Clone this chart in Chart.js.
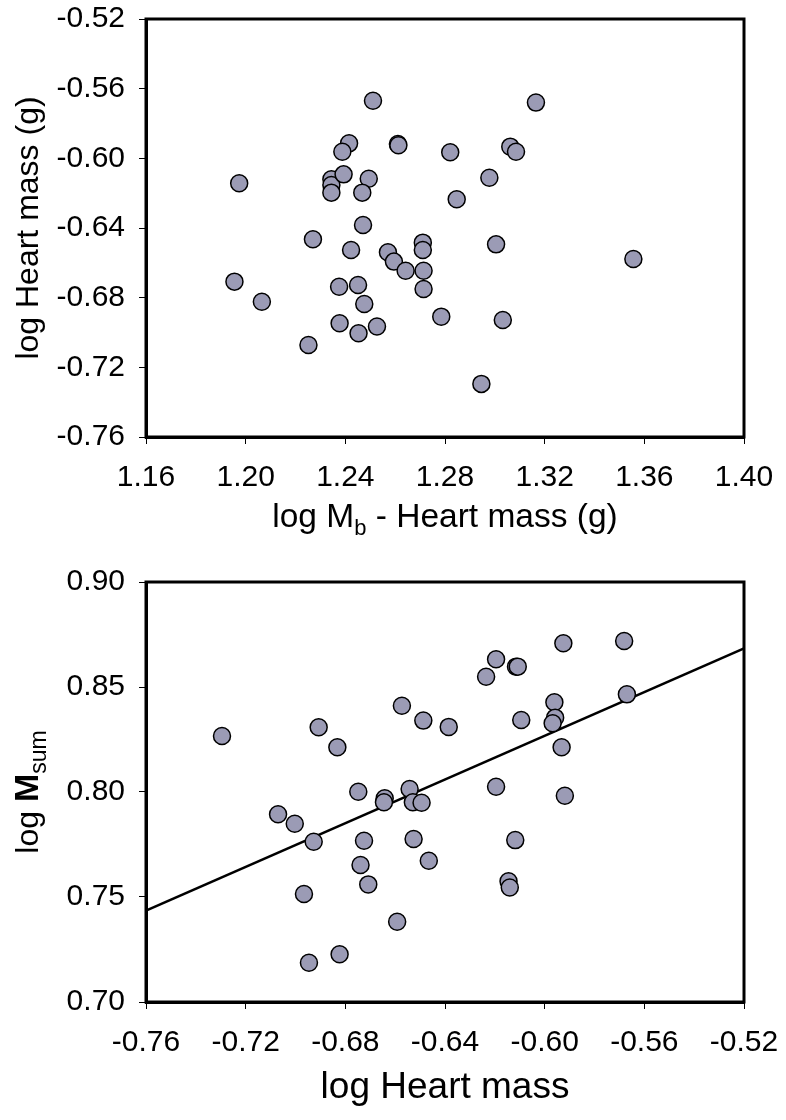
<!DOCTYPE html>
<html>
<head>
<meta charset="utf-8">
<script src="https://cdn.jsdelivr.net/npm/chart.js@4.4.1/dist/chart.umd.min.js"></script>
<style>
  body { margin: 0; background: #fff; }
  .box { position: absolute; left: 0; width: 786px; height: 560px; }
</style>
</head>
<body>
<div class="box" style="top:0"><canvas id="canvastopo" width="786" height="560"></canvas></div>
<div class="box" style="top:560px"><canvas id="canvasbaixo" width="786" height="560"></canvas></div>
<script>
// dados do grafico de cima: log Mb - Heart mass (x) contra log Heart mass (y)
var topX = [1.2511, 1.2415, 1.2388, 1.2611, 1.2613, 1.2821, 1.1974, 1.2344, 1.2344, 1.2344,
  1.2393, 1.2494, 1.2468, 1.2471, 1.2270, 1.2423, 1.2571, 1.2595, 1.2642, 1.2711,
  1.2711, 1.2714, 1.2714, 1.1955, 1.2065, 1.2375, 1.2451, 1.2476, 1.2377, 1.2453,
  1.2527, 1.2252, 1.2785, 1.2847, 1.3165, 1.3062, 1.3085, 1.2978, 1.3005, 1.3556,
  1.3032, 1.2946];
var topY = [-0.5669, -0.5914, -0.5962, -0.5918, -0.5925, -0.5965, -0.6143, -0.6120, -0.6153, -0.6197,
  -0.6092, -0.6117, -0.6197, -0.6383, -0.6465, -0.6526, -0.6539, -0.6593, -0.6645, -0.6484,
  -0.6526, -0.6645, -0.6750, -0.6708, -0.6823, -0.6737, -0.6727, -0.6836, -0.6947, -0.7004,
  -0.6966, -0.7072, -0.6909, -0.6235, -0.5680, -0.5933, -0.5962, -0.6111, -0.6494, -0.6578,
  -0.6928, -0.7295];

// dados do grafico de baixo: log Heart mass (x) contra log Msum (y)
var botX = [-0.7295, -0.6907, -0.6832, -0.6573, -0.6487, -0.6385, -0.6748, -0.6642, -0.6645, -0.6542,
  -0.6529, -0.6494, -0.7070, -0.7003, -0.6927, -0.6725, -0.6526, -0.6739, -0.6708, -0.6465,
  -0.6966, -0.6592, -0.6823, -0.6946, -0.5925, -0.5681, -0.6195, -0.6235, -0.6115, -0.6108,
  -0.5961, -0.5958, -0.5968, -0.5670, -0.6094, -0.5932, -0.6195, -0.5919, -0.6118, -0.6145,
  -0.6140];
var botY = [0.8267, 0.8308, 0.8213, 0.8411, 0.8340, 0.8310, 0.8001, 0.7970, 0.7951, 0.8014,
  0.7951, 0.7949, 0.7894, 0.7849, 0.7763, 0.7768, 0.7776, 0.7652, 0.7560, 0.7673,
  0.7514, 0.7382, 0.7227, 0.7187, 0.8708, 0.8719, 0.8632, 0.8549, 0.8597, 0.8597,
  0.8427, 0.8354, 0.8327, 0.8465, 0.8343, 0.8213, 0.8025, 0.7982, 0.7771, 0.7575,
  0.7545];

// reta de regressao
var fitX = [-0.76, -0.52];
var fitY = [0.7435, 0.8684];

// eixos: min, max, passo
var topTicksX = [1.16, 1.40, 0.04];
var topTicksY = [-0.76, -0.52, 0.04];
var botTicksX = [-0.76, -0.52, 0.04];
var botTicksY = [0.70, 0.90, 0.05];

var fonte = "'Liberation Sans', Arial, sans-serif";

function pares(xs, ys) {
  return xs.map(function (x, i) { return { x: x, y: ys[i] }; });
}

// caixa preta em volta da area do grafico
var caixa = {
  id: 'caixa',
  beforeDatasetsDraw: function (chart) {
    var a = chart.chartArea, ctx = chart.ctx;
    ctx.save();
    ctx.strokeStyle = '#000';
    ctx.lineWidth = 3;
    ctx.strokeRect(a.left, a.top, a.right - a.left, a.bottom - a.top);
    ctx.restore();
  }
};

// desenha texto com partes em subscrito / negrito
function textoPartes(ctx, partes, x, y) {
  var total = 0;
  partes.forEach(function (p) {
    ctx.font = (p.bold ? 'bold ' : '') + p.size + 'px ' + fonte;
    p.w = ctx.measureText(p.t).width;
    total += p.w;
  });
  var cx = x - total / 2;
  partes.forEach(function (p) {
    ctx.font = (p.bold ? 'bold ' : '') + p.size + 'px ' + fonte;
    ctx.fillText(p.t, cx, y + (p.dy || 0));
    cx += p.w;
  });
}

function titulos(xPartes, xBase, yPartes, yBase) {
  return {
    id: 'titulos',
    afterDraw: function (chart) {
      var a = chart.chartArea, ctx = chart.ctx;
      ctx.save();
      ctx.fillStyle = '#000';
      ctx.textAlign = 'left';
      ctx.textBaseline = 'alphabetic';
      textoPartes(ctx, xPartes, (a.left + a.right) / 2, xBase);
      ctx.translate(yBase, (a.top + a.bottom) / 2);
      ctx.rotate(-Math.PI / 2);
      textoPartes(ctx, yPartes, 0, 0);
      ctx.restore();
    }
  };
}

function eixo(lim, largura, ehX) {
  return {
    type: 'linear',
    min: lim[0],
    max: lim[1],
    ticks: {
      stepSize: lim[2],
      color: '#000',
      font: { family: fonte, size: 30 },
      padding: ehX ? 16 : 14,
      maxRotation: 0,
      autoSkip: false,
      callback: function (v) { return v.toFixed(2); }
    },
    grid: { drawOnChartArea: false, drawTicks: true, tickLength: 7, color: '#000', lineWidth: 1 },
    border: { display: true, color: '#000', width: 3 },
    afterFit: function (s) {
      if (ehX) { s.height = largura; } else { s.width = largura; }
      s.paddingTop = 0;
      s.paddingBottom = 0;
      s.paddingLeft = 0;
      s.paddingRight = 0;
    }
  };
}

function grafico(id, datasets, limX, limY, topo, altX, plugins) {
  var ctx = document.getElementById(id).getContext('2d');
  return new Chart(ctx, {
    type: 'scatter',
    data: { datasets: datasets },
    options: {
      responsive: false,
      animation: false,
      devicePixelRatio: 1,
      layout: { padding: { left: 0, right: 42, top: topo, bottom: 0 } },
      plugins: { legend: { display: false }, tooltip: { enabled: false } },
      scales: {
        x: eixo(limX, altX, true),
        y: eixo(limY, 146, false)
      }
    },
    plugins: plugins
  });
}

var estiloPonto = {
  backgroundColor: '#9b9bb5',
  borderColor: '#000',
  borderWidth: 1.5,
  pointRadius: 8.5,
  pointHoverRadius: 8.5
};

// grafico de cima
grafico('canvastopo', [
  Object.assign({ label: 'topo', data: pares(topX, topY), order: 0 }, estiloPonto)
], topTicksX, topTicksY, 19, 123, [caixa, titulos(
  [{ t: 'log M', size: 33.5 }, { t: 'b', size: 22, dy: 8 }, { t: ' - Heart mass (g)', size: 33.5 }], 527,
  [{ t: 'log Heart mass (g)', size: 32 }], 38
)]);

// grafico de baixo
grafico('canvasbaixo', [
  Object.assign({ label: 'baixo', data: pares(botX, botY), order: 0 }, estiloPonto),
  {
    label: 'reta',
    data: pares(fitX, fitY),
    showLine: true,
    borderColor: '#000',
    borderWidth: 2.5,
    pointRadius: 0,
    order: 1
  }
], botTicksX, botTicksY, 22, 118, [caixa, titulos(
  [{ t: 'log Heart mass', size: 37 }], 538,
  [{ t: 'log ', size: 32 }, { t: 'M', size: 34, bold: true }, { t: 'sum', size: 23, dy: 8 }], 38
)]);
</script>
</body>
</html>
